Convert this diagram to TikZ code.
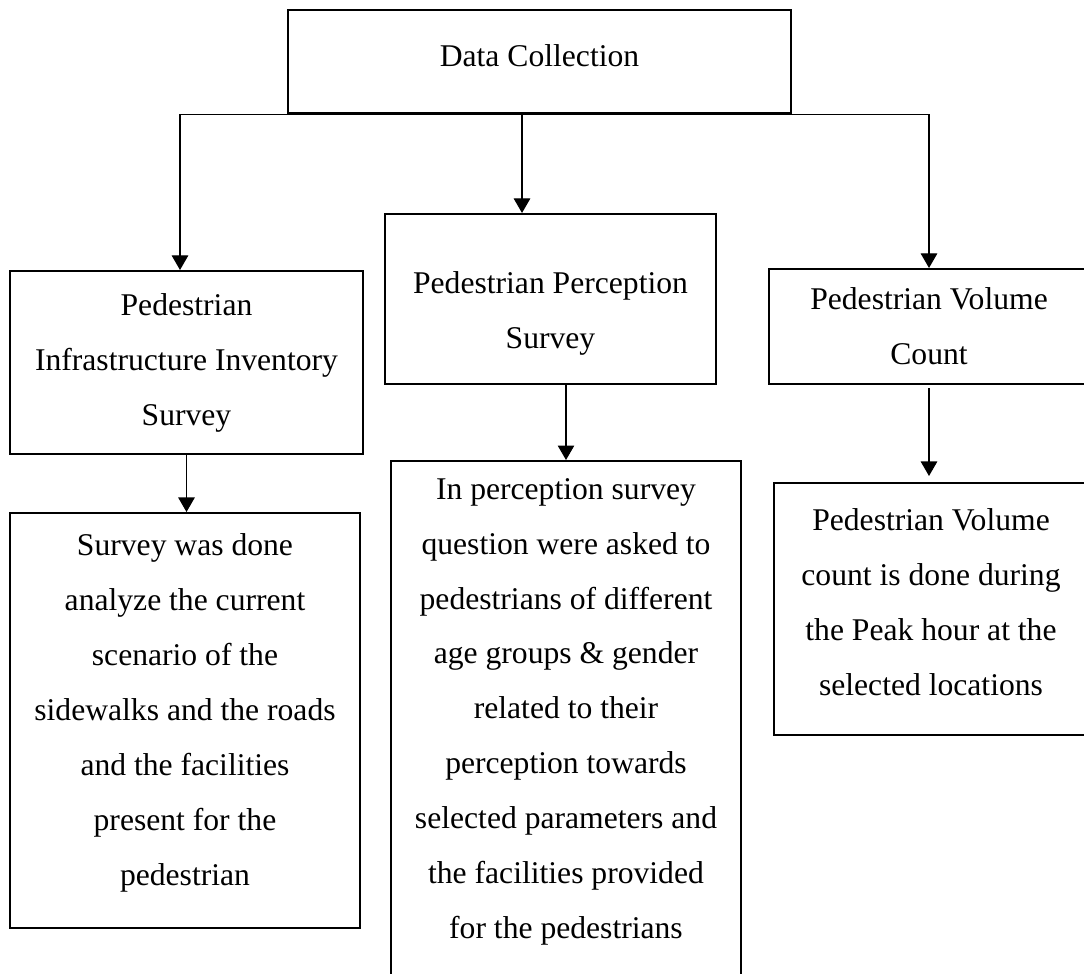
\documentclass[tikz,border=0pt]{standalone}
\usepackage{fontspec}
\setmainfont{Liberation Serif}
\usetikzlibrary{arrows.meta}

\tikzset{
    box/.style={draw, line width=1.2pt, align=center, inner sep=0pt,
        font=\fontsize{18}{31.3}\selectfont},
    link/.style={line width=0.6pt, -{Triangle[length=0.29cm, width=0.33cm]}}
}

\begin{document}
\begin{tikzpicture}[x=0.02cm, y=-0.02cm]
    % page frame
    \useasboundingbox (0, 0) rectangle (1084, 973);
    \clip (0, 0) rectangle (1084, 973);

    % draw top box
    \node[box, minimum width=10.06cm, minimum height=2.06cm, text height=12pt, text depth=6.8pt]
        (top) at (539.5, 61.5) {Data Collection};

    % draw survey boxes
    \node[box, minimum width=7.06cm, minimum height=3.66cm] (infra) at (186.5, 362.5)
        {Pedestrian\\Infrastructure Inventory\\Survey};
    \node[box, minimum width=6.62cm, minimum height=3.4cm, text height=60.3pt, text depth=3.9pt]
        (percep) at (550.5, 299) {Pedestrian Perception\\Survey};
    \node[box, minimum width=6.4cm, minimum height=2.3cm] (volume) at (929, 326.5)
        {Pedestrian Volume\\Count};

    % draw description boxes
    \node[box, minimum width=7cm, minimum height=8.3cm, text height=199.8pt, text depth=11.9pt]
        (infradesc) at (185, 720.5)
        {Survey was done\\analyze the current\\scenario of the\\sidewalks and the roads\\and the facilities\\present for the\\pedestrian};
    \node[box, minimum width=7cm, minimum height=11cm] (percepdesc) at (566, 736)
        {In perception survey\\question were asked to\\pedestrians of different\\age groups \& gender\\related to their\\perception towards\\selected parameters and\\the facilities provided\\for the pedestrians\\ \mbox{}};
    \node[box, minimum width=6.28cm, minimum height=5.04cm, text height=105.9pt, text depth=8pt]
        (volumedesc) at (931, 609)
        {Pedestrian Volume\\count is done during\\the Peak hour at the\\selected locations};

    % draw branches from top box
    \draw[link] (top.south) -| ([xshift=-0.13cm]infra.north);
    \draw[link] (top.south) -| (volume.north);
    \draw[link] ([xshift=-0.35cm]top.south) -- ([xshift=-0.35cm]top.south |- percep.north);

    % draw links to descriptions
    \draw[link] (infra.south) -- (infra.south |- infradesc.north);
    \draw[link] (percepdesc.north |- percep.south) -- (percepdesc.north);
    \draw[link, shorten <=0.06cm, shorten >=0.12cm] (volume.south) -- (volume.south |- volumedesc.north);
\end{tikzpicture}
\end{document}
